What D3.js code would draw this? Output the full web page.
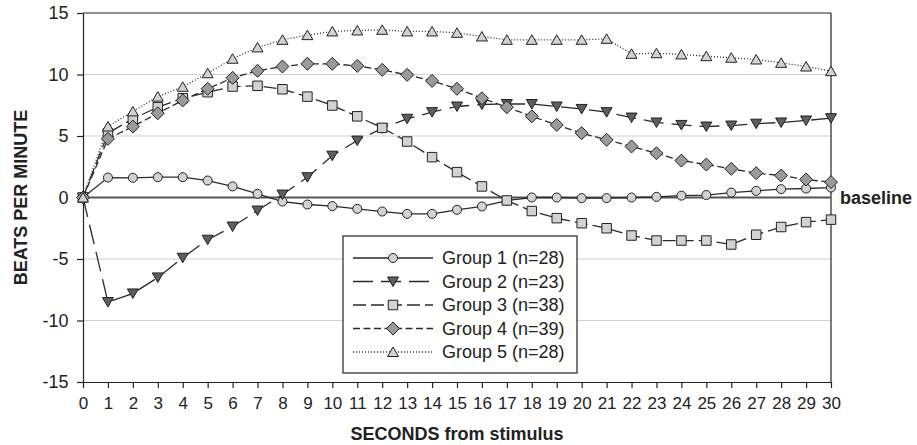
<!doctype html>
<html lang="en">
<head>
<meta charset="UTF-8">
<title>Heart rate change by group</title>
<script src="https://d3js.org/d3.v7.min.js"></script>
<style>
    body { margin: 0; background: #fff; }
    svg { display: block; font-family: "Liberation Sans", Arial, sans-serif; }
    .grid line { stroke: #cfcfcf; stroke-width: 1; }
    .tick text { fill: #222; }
</style>
</head>
<body>
<svg id="chart" width="917" height="445"></svg>
<script>
    // seconds from stimulus
    const seconds = d3.range(0, 31);
    const yTicks = [-15, -10, -5, 0, 5, 10, 15];

    const group1 = [0, 1.62, 1.6, 1.65, 1.65, 1.38, 0.9, 0.3, -0.33, -0.57, -0.7, -0.92, -1.14, -1.33, -1.33, -1.0,
        -0.73, -0.25, 0.0, 0.0, -0.05, -0.05, 0.0, 0.05, 0.15, 0.2, 0.4, 0.54, 0.68, 0.73, 0.81];
    const group2 = [0, -8.5, -7.8, -6.5, -4.9, -3.43, -2.36, -1.06, 0.24, 1.65, 3.4, 4.63, 5.63, 6.4, 6.94, 7.4,
        7.56, 7.6, 7.6, 7.4, 7.2, 6.94, 6.5, 6.1, 5.9, 5.77, 5.85, 6.0, 6.1, 6.26, 6.45];
    const group3 = [0, 5.23, 6.4, 7.34, 8.07, 8.56, 9.02, 9.08, 8.8, 8.2, 7.48, 6.6, 5.66, 4.55, 3.28, 2.06,
        0.9, -0.24, -1.1, -1.68, -2.09, -2.5, -3.09, -3.5, -3.5, -3.5, -3.82, -3.03, -2.4, -2.0, -1.8];
    const group4 = [0, 4.77, 5.77, 6.85, 7.89, 8.84, 9.73, 10.3, 10.65, 10.87, 10.87, 10.7, 10.38, 9.97, 9.48, 8.84,
        8.07, 7.34, 6.6, 5.9, 5.23, 4.69, 4.15, 3.6, 3.0, 2.68, 2.33, 1.98, 1.79, 1.46, 1.25];
    const group5 = [0, 5.77, 7.0, 8.2, 9.0, 10.1, 11.28, 12.2, 12.82, 13.2, 13.5, 13.58, 13.63, 13.5, 13.5, 13.39,
        13.09, 12.82, 12.82, 12.82, 12.82, 12.9, 11.68, 11.73, 11.63, 11.49, 11.36, 11.22, 10.95, 10.65, 10.27];

    const series = [
        { name: "Group 1 (n=28)", values: group1, symbol: d3.symbolCircle, size: 64, fill: "#d2d2d2", dash: null },
        { name: "Group 2 (n=23)", values: group2, symbol: "down", size: 0, fill: "#5e5e5e", dash: "20,8" },
        { name: "Group 3 (n=38)", values: group3, symbol: d3.symbolSquare, size: 90, fill: "#d2d2d2", dash: "13,5" },
        { name: "Group 4 (n=39)", values: group4, symbol: d3.symbolDiamond, size: 0, fill: "#9a9a9a", dash: "7,3.5" },
        { name: "Group 5 (n=28)", values: group5, symbol: "up", size: 0, fill: "#d2d2d2", dash: "1,2" }
    ];

    const svg = d3.select("#chart");
    const margin = { top: 13, right: 86, bottom: 63, left: 83 };
    const width = 917 - margin.left - margin.right;
    const height = 445 - margin.top - margin.bottom;

    const x = d3.scaleLinear().domain([0, 30]).range([0, width]);
    const y = d3.scaleLinear().domain([-15, 15]).range([height, 0]);

    const g = svg.append("g").attr("transform", `translate(${margin.left},${margin.top})`);

    // gridlines
    g.append("g").attr("class", "grid")
        .selectAll("line")
        .data(yTicks.filter(t => t !== 0 && t !== 15 && t !== -15))
        .join("line")
        .attr("x1", 0).attr("x2", width)
        .attr("y1", d => y(d)).attr("y2", d => y(d));

    // plot frame top and right
    g.append("line").attr("x1", 0).attr("x2", width).attr("y1", 0).attr("y2", 0)
        .attr("stroke", "#222").attr("stroke-width", 1.2);
    g.append("line").attr("x1", width).attr("x2", width).attr("y1", 0).attr("y2", height)
        .attr("stroke", "#222").attr("stroke-width", 1.2);

    // baseline
    g.append("line").attr("x1", 0).attr("x2", width).attr("y1", y(0)).attr("y2", y(0))
        .attr("stroke", "#555").attr("stroke-width", 2);

    const xAxis = g.append("g").attr("transform", `translate(0,${height})`)
        .call(d3.axisBottom(x).tickValues(seconds).tickFormat(d => String(d)).tickSize(6).tickSizeOuter(0));
    xAxis.selectAll("text").attr("font-size", 17).attr("dy", "1.05em");

    const yAxis = g.append("g")
        .call(d3.axisLeft(y).tickValues(yTicks).tickFormat(d => String(d)).tickSize(6).tickSizeOuter(0));
    yAxis.selectAll("text").attr("font-size", 18).attr("dx", "-0.3em");
    g.selectAll(".domain, .tick line").attr("stroke", "#222").attr("stroke-width", 1.2);

    function symbolPath(s) {
        if (s.symbol === "down") return "M-5.5,-4.5L5.5,-4.5L0,5Z";
        if (s.symbol === "up") return "M-5.5,4.5L5.5,4.5L0,-5Z";
        if (s.symbol === d3.symbolDiamond) return "M0,-6.5L6.5,0L0,6.5L-6.5,0Z";
        return d3.symbol(s.symbol, s.size)();
    }

    const line = d3.line().x((d, i) => x(seconds[i])).y(d => y(d));

    series.forEach(s => {
        g.append("path")
            .datum(s.values)
            .attr("fill", "none")
            .attr("stroke", "#2a2a2a")
            .attr("stroke-width", 1.3)
            .attr("stroke-dasharray", s.dash)
            .attr("d", line);
    });

    series.forEach(s => {
        g.append("g").selectAll("path")
            .data(s.values)
            .join("path")
            .attr("transform", (d, i) => `translate(${x(seconds[i])},${y(d)})`)
            .attr("d", symbolPath(s))
            .attr("fill", s.fill)
            .attr("stroke", "#222")
            .attr("stroke-width", 1);
    });

    // legend
    const legend = g.append("g").attr("transform", "translate(260,223)");
    legend.append("rect").attr("width", 234).attr("height", 137)
        .attr("fill", "#fff").attr("stroke", "#222").attr("stroke-width", 1.2);
    series.forEach((s, i) => {
        const row = legend.append("g").attr("transform", `translate(0,${22 + i * 23.5})`);
        row.append("line").attr("x1", 10).attr("x2", 90)
            .attr("stroke", "#2a2a2a").attr("stroke-width", 1.3)
            .attr("stroke-dasharray", s.dash);
        row.append("path").attr("transform", "translate(50,0)")
            .attr("d", symbolPath(s)).attr("fill", s.fill)
            .attr("stroke", "#222").attr("stroke-width", 1);
        row.append("text").attr("x", 99).attr("dy", "0.36em")
            .attr("font-size", 18).attr("fill", "#222").text(s.name);
    });

    // labels
    g.append("text").attr("x", width + 9).attr("y", y(0) + 6)
        .attr("font-size", 18).attr("font-weight", "bold").attr("fill", "#222").text("baseline");

    svg.append("text")
        .attr("x", margin.left + width / 2).attr("y", 440)
        .attr("text-anchor", "middle").attr("font-size", 18).attr("font-weight", "bold")
        .attr("fill", "#222").text("SECONDS from stimulus");

    svg.append("text")
        .attr("transform", `translate(27,${margin.top + height / 2}) rotate(-90)`)
        .attr("text-anchor", "middle").attr("font-size", 18).attr("font-weight", "bold")
        .attr("fill", "#222").text("BEATS PER MINUTE");
</script>
</body>
</html>
